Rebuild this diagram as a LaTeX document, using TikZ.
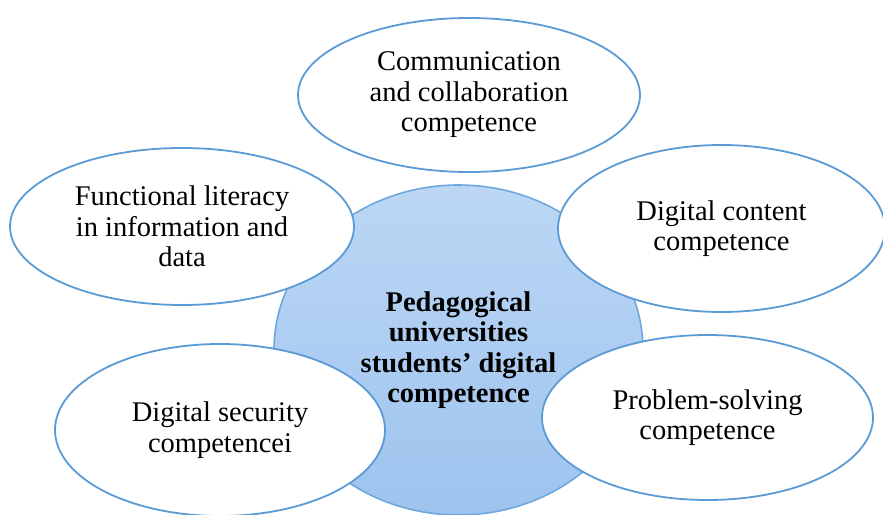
\documentclass[tikz,border=0pt]{standalone}
\usepackage{fontspec}
\setmainfont{Liberation Serif}
\usetikzlibrary{shapes.geometric}
\definecolor{rimblue}{RGB}{91,155,213}
\definecolor{corerim}{RGB}{110,168,222}
\definecolor{coretop}{RGB}{188,215,245}
\definecolor{corebottom}{RGB}{157,195,238}
\tikzset{
  core/.style={ellipse, draw=corerim, line width=1.6pt, inner sep=0pt,
    top color=coretop, bottom color=corebottom, shading angle=0,
    align=center, font={\fontsize{28.5pt}{30.5pt}\selectfont\bfseries}},
  petal/.style={ellipse, draw=rimblue, line width=1.8pt, fill=white,
    inner sep=0pt, align=center,
    font={\fontsize{28.5pt}{30.5pt}\selectfont}}
}
\begin{document}
\begin{tikzpicture}[x=1pt,y=-1pt]
  \useasboundingbox (0,0) rectangle (883,514);
  % central competence
  \node[core, minimum width=369pt, minimum height=330pt] (core) at (458.5,350)
    {Pedagogical\\universities\\students’ digital\\competence};
  % surrounding competences
  \node[petal, minimum width=342pt, minimum height=154pt] (comm) at (469,95)
    {Communication\\and collaboration\\competence};
  \node[petal, minimum width=344pt, minimum height=157pt] (info) at (182,226.5)
    {Functional literacy\\in information and\\data};
  \node[petal, minimum width=327pt, minimum height=167pt] (content) at (721.5,228.5)
    {Digital content\\competence};
  \node[petal, minimum width=330pt, minimum height=172pt] (security) at (220,430)
    {Digital security\\competencei};
  \node[petal, minimum width=331pt, minimum height=165pt] (problem) at (707.5,417.5)
    {Problem-solving\\competence};
\end{tikzpicture}
\end{document}
